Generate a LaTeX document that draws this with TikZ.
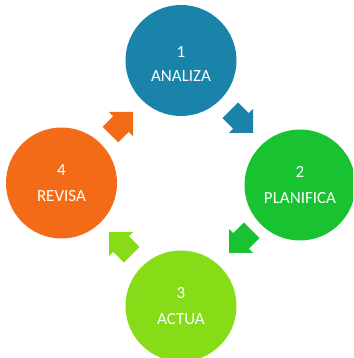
\documentclass[tikz,border=0pt]{standalone}
\usepackage{fontspec}
\setmainfont{Carlito}
\definecolor{cblue}{HTML}{1A83AA}
\definecolor{cgreen}{HTML}{19C231}
\definecolor{clime}{HTML}{86DC16}
\definecolor{corange}{HTML}{F36B17}
\tikzset{
  stage/.style={circle, minimum size=111pt, inner sep=0pt, text=white, align=center,
    font=\fontsize{17}{26}\selectfont},
  blockarrow/.pic={
    \fill[pic actions] (0,0) -- (-17,17) -- (-17,11) -- (-32,11) -- (-32,-11) -- (-17,-11) -- (-17,-17) -- cycle;
  }
}
\begin{document}
\begin{tikzpicture}[x=1pt,y=1pt]
\useasboundingbox (0,0) rectangle (353,358);
\clip (0,0) rectangle (353,358);
\node[stage, fill=cblue, font=\fontsize{17}{24}\selectfont] (s1) at (181,297.5) {\rule{0pt}{19pt}1\\ANALIZA};
\node[stage, fill=cgreen] (s2) at (300,173) {2\\PLANIFICA};
\node[stage, fill=clime] (s3) at (181,52) {3\\ACTUA};
\node[stage, fill=corange] (s4) at (61.5,175) {4\\REVISA};
\pic[fill=cblue, rotate=-45] at (253,225) {blockarrow};
\pic[fill=cgreen, rotate=-135] at (229,105) {blockarrow};
\pic[fill=clime, rotate=135] at (109,126) {blockarrow};
\pic[fill=corange, rotate=45] at (133,246) {blockarrow};
\end{tikzpicture}
\end{document}
